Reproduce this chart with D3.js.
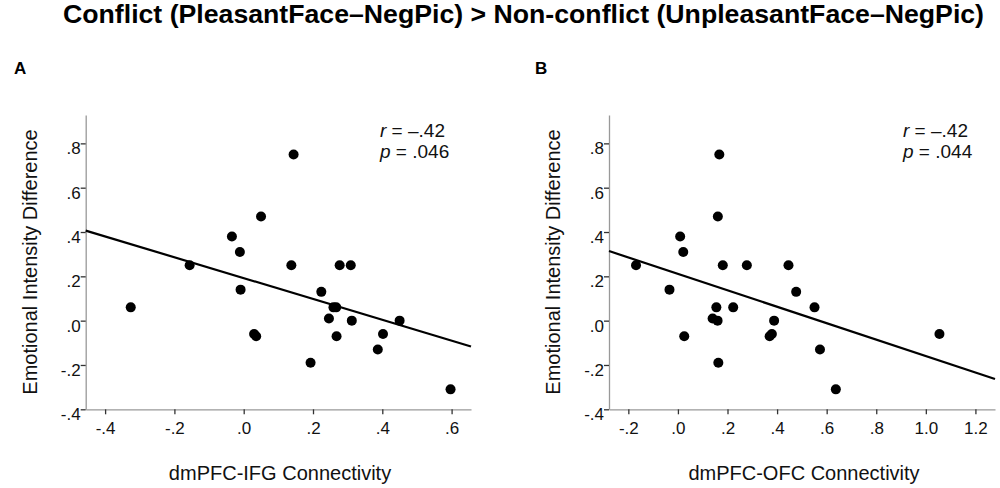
<!DOCTYPE html>
<html>
<head>
<meta charset="utf-8">
<script src="https://cdn.jsdelivr.net/npm/d3@7"></script>
<style>
  body { margin: 0; background: #fff; }
  text { font-family: "Liberation Sans", Arial, sans-serif; }
</style>
</head>
<body>
<script>
let w = 1000;
let h = 488;

// panel A: dmPFC-IFG connectivity
const xA = [-0.326, -0.156, -0.034, -0.011, -0.009, 0.05, 0.03, 0.036, 0.144, 0.1375, 0.193, 0.224,
  0.246, 0.259, 0.267, 0.268, 0.277, 0.309, 0.312, 0.387, 0.402, 0.45, 0.597];
const yA = [0.06, 0.25, 0.38, 0.31, 0.14, 0.47, -0.06, -0.07, 0.75, 0.25, -0.19, 0.13,
  0.01, 0.06, 0.06, -0.07, 0.25, 0.25, 0.0, -0.13, -0.06, 0.0, -0.31];
const fitA = [0.192, -0.47]; // intercept, slope

// panel B: dmPFC-OFC connectivity
const xB = [-0.169, -0.034, 0.009, 0.0215, 0.0255, 0.14, 0.155, 0.16, 0.161, 0.167, 0.163, 0.181,
  0.223, 0.278, 0.37, 0.379, 0.388, 0.446, 0.477, 0.551, 0.573, 0.637, 1.055];
const yB = [0.25, 0.14, 0.38, 0.31, -0.07, 0.01, 0.06, 0.0, 0.47, 0.75, -0.19, 0.25,
  0.06, 0.25, -0.07, -0.06, 0.0, 0.25, 0.13, 0.06, -0.13, -0.31, -0.06];
const fitB = [0.211, -0.371];

const yTicks = [-0.4, -0.2, 0, 0.2, 0.4, 0.6, 0.8];
const xTicksA = [-0.4, -0.2, 0, 0.2, 0.4, 0.6];
const xTicksB = [-0.2, 0, 0.2, 0.4, 0.6, 0.8, 1.0, 1.2];

const statsA = ["\u2013.42", ".046"];
const statsB = ["\u2013.42", ".044"];

let svg = d3.select("body").append("svg").attr("width", w).attr("height", h);

// SPSS style labels: no leading zero, plain hyphen
const fmt = function (d) {
  let s = Math.abs(d).toFixed(1);
  if (s.charAt(0) === "0") s = s.slice(1);
  return (d < 0 ? "-" : "") + s;
};

svg
  .append("text")
  .text("Conflict (PleasantFace\u2013NegPic) > Non-conflict (UnpleasantFace\u2013NegPic)")
  .attr("x", 63)
  .attr("y", 23)
  .attr("font-size", "25px")
  .attr("font-weight", "bold")
  .attr("textLength", 921)
  .attr("lengthAdjust", "spacingAndGlyphs")
  .attr("fill", "#000");

function drawPanel(opt) {
  let x = d3.scaleLinear().domain(opt.xDomain).range([opt.left, opt.right]);
  let y = d3.scaleLinear().domain([-0.4, 0.928]).range([409.3, 115]);

  svg
    .append("text")
    .text(opt.letter)
    .attr("x", opt.letterX)
    .attr("y", 74)
    .attr("font-size", "17px")
    .attr("font-weight", "bold");

  let gx = svg
    .append("g")
    .attr("transform", "translate(0," + y(-0.4) + ")")
    .call(d3.axisBottom(x).tickValues(opt.xTicks).tickFormat(fmt).tickSize(5).tickSizeOuter(0).tickPadding(8));
  gx.select(".domain").attr("stroke", "#999").attr("stroke-width", 1.3);
  gx.selectAll(".tick line").attr("stroke", "#333").attr("stroke-width", 1.3);
  gx.selectAll(".tick text").attr("font-size", "17px").attr("font-family", "Liberation Sans, Arial, sans-serif").attr("fill", "#111");

  let gy = svg
    .append("g")
    .attr("transform", "translate(" + opt.left + ",0)")
    .call(d3.axisLeft(y).tickValues(yTicks).tickFormat(fmt).tickSize(5).tickSizeOuter(0).tickPadding(0));
  gy.select(".domain").attr("stroke", "#999").attr("stroke-width", 1.3);
  gy.selectAll(".tick line").attr("stroke", "#333").attr("stroke-width", 1.3);
  gy.selectAll(".tick text")
    .attr("font-size", "17px")
    .attr("font-family", "Liberation Sans, Arial, sans-serif")
    .attr("fill", "#111")
    .attr("dy", "0.62em");

  // regression line
  let line = d3
    .line()
    .x(function (d) {
      return x(d);
    })
    .y(function (d) {
      return y(opt.fit[0] + opt.fit[1] * d);
    });
  svg
    .append("path")
    .attr("d", line(opt.xDomain))
    .attr("stroke", "#000")
    .attr("stroke-width", 2.2)
    .attr("fill", "none");

  svg
    .append("g")
    .selectAll("circle")
    .data(opt.xs)
    .enter()
    .append("circle")
    .attr("cx", function (d) {
      return x(d);
    })
    .attr("cy", function (d, i) {
      return y(opt.ys[i]);
    })
    .attr("r", 5)
    .attr("fill", "#000");

  // axis titles
  svg
    .append("text")
    .text(opt.xTitle)
    .attr("x", opt.xTitleX)
    .attr("y", 480)
    .attr("text-anchor", "middle")
    .attr("font-size", "20px")
    .attr("fill", "#111");

  svg
    .append("text")
    .text("Emotional Intensity Difference")
    .attr("transform", "translate(" + opt.yTitleX + ",262) rotate(-90)")
    .attr("text-anchor", "middle")
    .attr("font-size", "20px")
    .attr("fill", "#111");

  // r and p
  let t1 = svg.append("text").attr("x", opt.statX).attr("y", 137).attr("font-size", "19px").attr("fill", "#111");
  t1.append("tspan").text("r").attr("font-style", "italic");
  t1.append("tspan").text(" = " + opt.stats[0]);
  let t2 = svg.append("text").attr("x", opt.statX).attr("y", 158).attr("font-size", "19px").attr("fill", "#111");
  t2.append("tspan").text("p").attr("font-style", "italic");
  t2.append("tspan").text(" = " + opt.stats[1]);
}

drawPanel({
  letter: "A",
  letterX: 14,
  left: 85.7,
  right: 471,
  xDomain: [-0.456, 0.656],
  xTicks: xTicksA,
  xs: xA,
  ys: yA,
  fit: fitA,
  xTitle: "dmPFC-IFG Connectivity",
  xTitleX: 280,
  yTitleX: 37,
  statX: 380,
  stats: statsA,
});

drawPanel({
  letter: "B",
  letterX: 535,
  left: 609,
  right: 995,
  xDomain: [-0.278, 1.279],
  xTicks: xTicksB,
  xs: xB,
  ys: yB,
  fit: fitB,
  xTitle: "dmPFC-OFC Connectivity",
  xTitleX: 804,
  yTitleX: 560,
  statX: 903,
  stats: statsB,
});
</script>
</body>
</html>
